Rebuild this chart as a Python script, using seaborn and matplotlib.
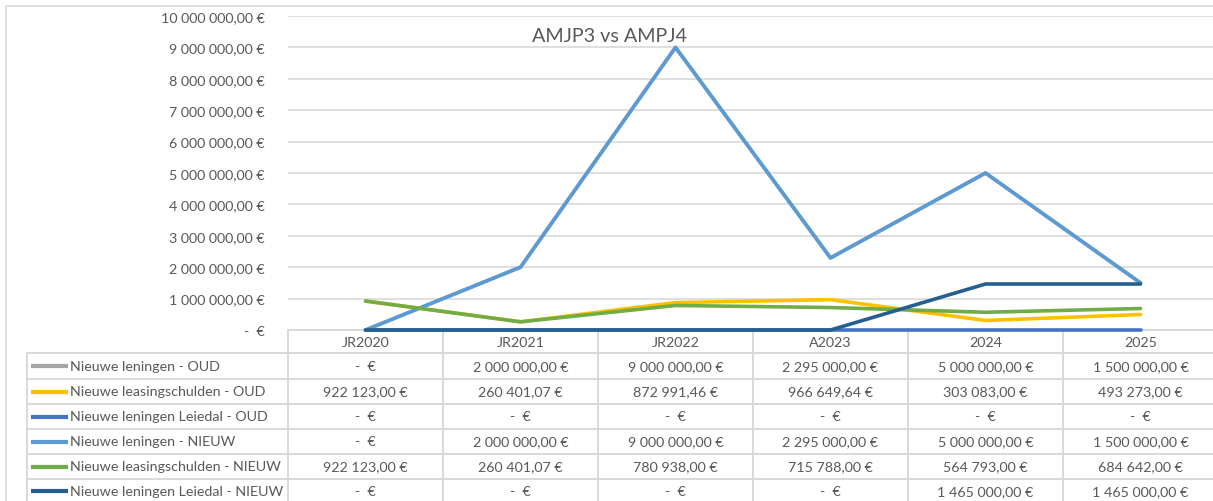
import numpy as np
import pandas as pd
import matplotlib
matplotlib.use("Agg")
import matplotlib.pyplot as plt
from matplotlib.ticker import FuncFormatter, MultipleLocator
from matplotlib.patches import Rectangle
import seaborn as sns

# ---------------- data ----------------
categories = ["JR2020", "JR2021", "JR2022", "A2023", "2024", "2025"]
series_names = [
    "Nieuwe leningen - OUD",
    "Nieuwe leasingschulden - OUD",
    "Nieuwe leningen Leiedal - OUD",
    "Nieuwe leningen - NIEUW",
    "Nieuwe leasingschulden - NIEUW",
    "Nieuwe leningen Leiedal - NIEUW",
]
leningen_oud = [0, 2000000.00, 9000000.00, 2295000.00, 5000000.00, 1500000.00]
leasing_oud = [922123.00, 260401.07, 872991.46, 966649.64, 303083.00, 493273.00]
leiedal_oud = [0, 0, 0, 0, 0, 0]
leningen_nieuw = [0, 2000000.00, 9000000.00, 2295000.00, 5000000.00, 1500000.00]
leasing_nieuw = [922123.00, 260401.07, 780938.00, 715788.00, 564793.00, 684642.00]
leiedal_nieuw = [0, 0, 0, 0, 1465000.00, 1465000.00]
series_values = [leningen_oud, leasing_oud, leiedal_oud,
                 leningen_nieuw, leasing_nieuw, leiedal_nieuw]
colors = ["#A5A5A5", "#FFC000", "#4472C4", "#5B9BD5", "#70AD47", "#255E91"]
title = "AMJP3 vs AMPJ4"

rows = []
for name, vals in zip(series_names, series_values):
    for c, v in zip(categories, vals):
        rows.append({"cat": c, "value": v, "series": name})
df = pd.DataFrame(rows)


def fmt(v, pos=None):
    if v == 0:
        return "-  €"
    s = f"{v:,.2f}".replace(",", " ").replace(".", ",")
    return s + " €"


# ---------------- figure ----------------
sns.set_theme(style="white")
plt.rcParams["font.family"] = ["Lato", "DejaVu Sans"]
TXT = "#595959"
GRID = "#D9D9D9"

W, H = 1213, 502
fig = plt.figure(figsize=(W / 100, H / 100), dpi=100)

left_px, colw = 288, 155
top_px, bot_px = 17, 331
ax = fig.add_axes([left_px / W, (H - bot_px) / H,
                   6 * colw / W, (bot_px - top_px) / H])

sns.lineplot(data=df, x="cat", y="value", hue="series", hue_order=series_names,
             palette=colors, linewidth=2.6, legend=False, sort=False, ax=ax,
             zorder=3)
for ln in ax.get_lines():
    ln.set_clip_on(False)

ax.set_xlim(-0.5, len(categories) - 0.5)
ax.set_ylim(0, 10000000)
ax.yaxis.set_major_locator(MultipleLocator(1000000))
ax.yaxis.set_major_formatter(FuncFormatter(fmt))
ax.set_xticks([])
ax.set_xlabel("")
ax.set_ylabel("")
ax.grid(axis="y", color=GRID, linewidth=1.2)
ax.tick_params(axis="y", length=0, pad=17, labelsize=10.3, labelcolor=TXT)
for sp in ax.spines.values():
    sp.set_visible(False)
ax.set_facecolor("none")

# ---------------- overlay (title, border, data table) ----------------
ov = fig.add_axes([0, 0, 1, 1], zorder=-1)
ov.set_xlim(0, W)
ov.set_ylim(H, 0)
ov.axis("off")
ov.patch.set_alpha(0)

ov.add_patch(Rectangle((6, 7), W + 50, H + 50, fill=False,
                       edgecolor=GRID, linewidth=1.2))
ov.text(610, 37, title, ha="center", va="center", fontsize=14.2, color=TXT)

lw_t = 1.4
right_px = left_px + 6 * colw
hdr_top, hdr_bot = 331, 354
row_edges = [354, 380, 405, 430, 455, 480, 504]
# horizontals
ov.plot([left_px, right_px], [hdr_top, hdr_top], color=GRID, lw=lw_t, zorder=1)
for y in row_edges:
    ov.plot([27, right_px], [y, y], color=GRID, lw=lw_t, zorder=1)
# verticals
ov.plot([27, 27], [hdr_bot, H + 5], color=GRID, lw=lw_t, zorder=1)
for i in range(7):
    x = left_px + i * colw
    ov.plot([x, x], [hdr_top, H + 5], color=GRID, lw=lw_t, zorder=1)

for i, c in enumerate(categories):
    ov.text(left_px + (i + 0.5) * colw, (hdr_top + hdr_bot) / 2 + 1, c,
            ha="center", va="center", fontsize=10.3, color=TXT)

for r, (name, vals, col) in enumerate(zip(series_names, series_values, colors)):
    ym = (row_edges[r] + row_edges[r + 1]) / 2
    ov.plot([31, 68], [ym, ym], color=col, lw=3, solid_capstyle="butt")
    ov.text(70, ym, name, ha="left", va="center", fontsize=10.3, color=TXT)
    for i, v in enumerate(vals):
        ov.text(left_px + (i + 0.5) * colw, ym, fmt(v), ha="center",
                va="center", fontsize=10.3, color=TXT)

fig.savefig("out.png", dpi=100, facecolor="white")
